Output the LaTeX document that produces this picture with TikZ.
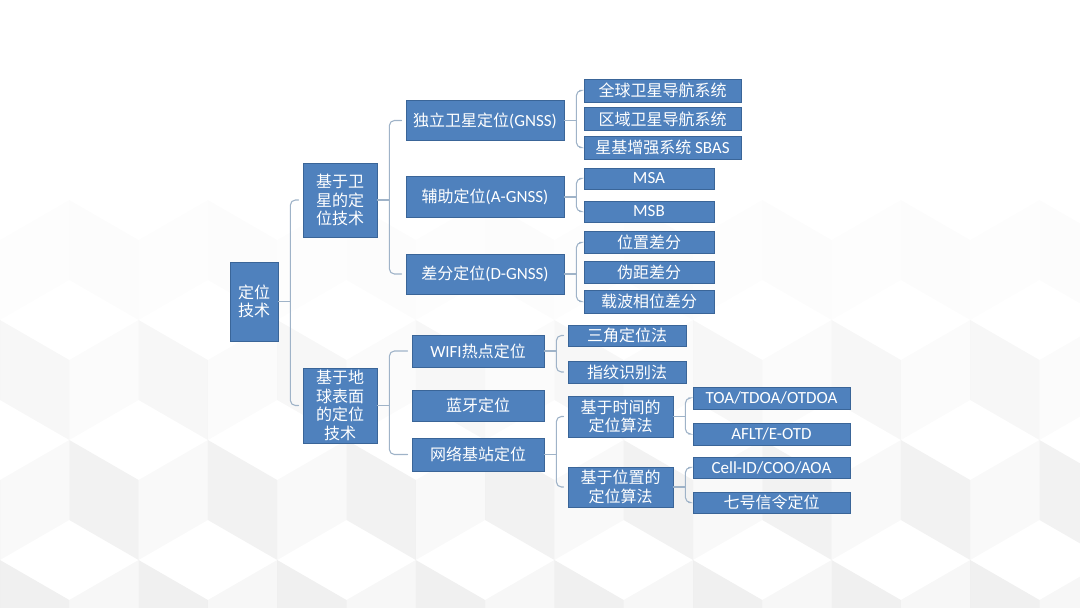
\documentclass[tikz,border=0pt]{standalone}
\usepackage{fontspec}
\setmainfont{Carlito}
\newfontfamily\cjk{Noto Sans CJK SC}
\usepackage{tikz}
\usetikzlibrary{calc,positioning}
\definecolor{boxblue}{HTML}{4F81BD}
\definecolor{boxline}{HTML}{3A6598}
\definecolor{braceline}{HTML}{9FB3C8}
\tikzset{>=stealth,
  sbox/.style={draw=boxline, line width=0.8pt, fill=boxblue, text=white,
    inner sep=0pt, align=center, font=\cjk\fontsize{16}{18.5}\selectfont},
  wh/.style 2 args={minimum width=#1, minimum height=#2},
  brace/.style={draw=braceline, line width=1.1pt, line cap=round}}
\newcommand\entext[1]{{\rmfamily\fontsize{17}{18.5}\selectfont #1}}

\begin{document}
\begin{tikzpicture}[x=1pt, y=-1pt]

\newcommand\DrawBrace[3]{% parent, first child, last child
  \draw[brace] (#1.east) -- ++(12,0);
  \draw[brace, rounded corners=5pt] ([xshift=-4pt]#2.west)
    -| ($(#1.east)+(12,0)$) |- ([xshift=-4pt]#3.west);
}

\useasboundingbox (0,0) rectangle (1080,608);

% faint blocks in the background, fading out to the top
\begin{scope}
\clip (0,0) rectangle (1080,608);
\foreach \j in {0,...,6} {
  \foreach \i in {-1,...,8} {
    \pgfmathsetmacro\cx{\i*138.6+mod(\j,2)*69.3}
    \pgfmathsetmacro\cy{\j*120}
    \pgfmathsetmacro\fo{max(0,min(1,(\cy-150)/400))}
    \fill[black, fill opacity=0.06*\fo] (\cx-69.3,\cy-40) -- (\cx,\cy)
      -- (\cx,\cy+80) -- (\cx-69.3,\cy+40) -- cycle;
    \fill[black, fill opacity=0.03*\fo] (\cx,\cy) -- (\cx+69.3,\cy-40)
      -- (\cx+69.3,\cy+40) -- (\cx,\cy+80) -- cycle;
  }
}
\end{scope}

% root and first level
\node[sbox, wh={48}{79}] (root) at (254,301.5) {定位\\技术};
\node[sbox, wh={74}{74}] (sat) at (340,200) {基于卫\\星的定\\位技术};
\node[sbox, wh={74}{75}] (surf) at (340,405.5) {基于地\\球表面\\的定位\\技术};

% satellite branch
\node[sbox, wh={158}{40}] (gnss) at (485,120.5) {独立卫星定位\entext{(GNSS)}};
\node[sbox, wh={158}{41}] (agnss) at (485,197) {辅助定位\entext{(A-GNSS)}};
\node[sbox, wh={158}{40}] (dgnss) at (485,274) {差分定位\entext{(D-GNSS)}};

\node[sbox, wh={157}{23}] (glob) at (662.5,90.5) {全球卫星导航系统};
\node[sbox, wh={157}{23}] (regn) at (662.5,119) {区域卫星导航系统};
\node[sbox, wh={157}{23}] (sbas) at (662.5,147.5) {星基增强系统 \entext{SBAS}};
\node[sbox, wh={130}{21}] (msa) at (649,178.5) {\entext{MSA}};
\node[sbox, wh={130}{21}] (msb) at (649,211.5) {\entext{MSB}};
\node[sbox, wh={130}{22}] (posd) at (649,242.5) {位置差分};
\node[sbox, wh={130}{22}] (pseu) at (649,272) {伪距差分};
\node[sbox, wh={130}{23}] (carr) at (649,301.5) {载波相位差分};

% surface branch
\node[sbox, wh={132}{32}] (wifi) at (478,351) {\entext{WIFI}热点定位};
\node[sbox, wh={132}{31}] (blue) at (478,405.5) {蓝牙定位};
\node[sbox, wh={132}{33}] (net) at (478,454.5) {网络基站定位};

\node[sbox, wh={118}{21}] (tri) at (627,335.5) {三角定位法};
\node[sbox, wh={118}{22}] (fing) at (627,372) {指纹识别法};
\node[sbox, wh={105}{41}] (timea) at (620.5,416.5) {基于时间的\\定位算法};
\node[sbox, wh={105}{40}] (loca) at (620.5,487) {基于位置的\\定位算法};

\node[sbox, wh={157}{22}] (toa) at (771.5,398) {\entext{TOA/TDOA/OTDOA}};
\node[sbox, wh={157}{22}] (aflt) at (771.5,434) {\entext{AFLT/E-OTD}};
\node[sbox, wh={157}{21}] (cell) at (771.5,467.5) {\entext{Cell-ID/COO/AOA}};
\node[sbox, wh={157}{21}] (ss7) at (771.5,502.5) {七号信令定位};

% brackets
\DrawBrace{root}{sat}{surf}
\DrawBrace{sat}{gnss}{dgnss}
\DrawBrace{surf}{wifi}{net}
\DrawBrace{gnss}{glob}{sbas}
\DrawBrace{agnss}{msa}{msb}
\DrawBrace{dgnss}{posd}{carr}
\DrawBrace{wifi}{tri}{fing}
\DrawBrace{net}{timea}{loca}
\DrawBrace{timea}{toa}{aflt}
\DrawBrace{loca}{cell}{ss7}
\end{tikzpicture}
\end{document}
